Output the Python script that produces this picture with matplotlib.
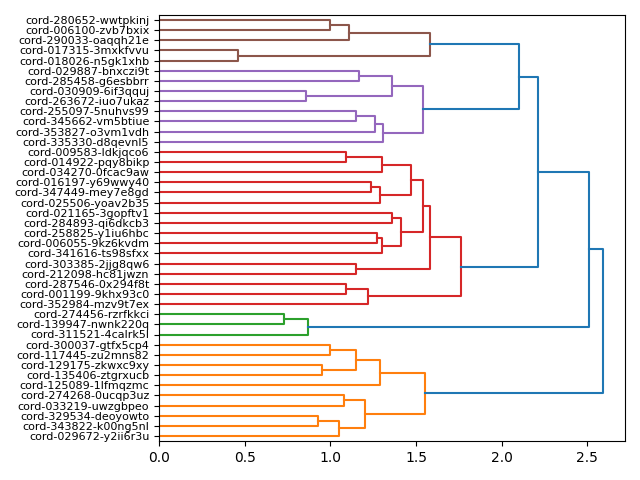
import numpy as np
import matplotlib
matplotlib.use("Agg")
import matplotlib.pyplot as plt

# leaf labels, top to bottom as shown
labels = [
    "cord-280652-wwtpkinj", "cord-006100-zvb7bxix", "cord-290033-oaqqh21e",
    "cord-017315-3mxkfvvu", "cord-018026-n5gk1xhb", "cord-029887-bnxczi9t",
    "cord-285458-g6esbbrr", "cord-030909-6if3qquj", "cord-263672-iuo7ukaz",
    "cord-255097-5nuhvs99", "cord-345662-vm5btiue", "cord-353827-o3vm1vdh",
    "cord-335330-d8qevnl5", "cord-009583-ldkjqco6", "cord-014922-pqy8bikp",
    "cord-034270-0fcac9aw", "cord-016197-y69wwy40", "cord-347449-mey7e8gd",
    "cord-025506-yoav2b35", "cord-021165-3gopftv1", "cord-284893-qi6dkcb3",
    "cord-258825-y1iu6hbc", "cord-006055-9kz6kvdm", "cord-341616-ts98sfxx",
    "cord-303385-2jjg8qw6", "cord-212098-hc81jwzn", "cord-287546-0x294f8t",
    "cord-001199-9khx93c0", "cord-352984-mzv9t7ex", "cord-274456-rzrfkkci",
    "cord-139947-nwnk220q", "cord-311521-4calrk5l", "cord-300037-gtfx5cp4",
    "cord-117445-zu2mns82", "cord-129175-zkwxc9xy", "cord-135406-ztgrxucb",
    "cord-125089-1lfmqzmc", "cord-274268-0ucqp3uz", "cord-033219-uwzgbpeo",
    "cord-329534-deoyowto", "cord-343822-k00ng5nl", "cord-029672-y2ii6r3u",
]

# merges: child a, child b, distance (new cluster ids start at len(labels))
merge_a = [0, 42, 3, 43, 5, 7, 46, 9, 49, 50, 48, 45,
           13, 54, 16, 56, 55, 19, 21, 60, 59, 58, 24, 63, 26, 66, 65, 53,
           29, 70, 69,
           32, 34, 73, 75, 37, 39, 78, 77, 76, 72]
merge_b = [1, 2, 4, 44, 6, 8, 47, 10, 11, 12, 51, 52,
           14, 15, 17, 18, 57, 20, 22, 23, 61, 62, 25, 64, 27, 28, 67, 68,
           30, 31, 71,
           33, 35, 74, 36, 38, 40, 41, 79, 80, 81]
merge_h = [1.00, 1.11, 0.46, 1.58, 1.17, 0.86, 1.36, 1.15, 1.26, 1.31, 1.54, 2.10,
           1.09, 1.30, 1.24, 1.29, 1.47, 1.36, 1.27, 1.30, 1.41, 1.54, 1.15, 1.58,
           1.09, 1.22, 1.76, 2.21,
           0.73, 0.87, 2.51,
           1.00, 0.95, 1.15, 1.29, 1.08, 0.93, 1.05, 1.20, 1.55, 2.59]

color_threshold = 1.815
cluster_roots = [81, 71, 68, 52, 45]
cluster_colors = ["C1", "C2", "C3", "C4", "C5"]
above_color = "C0"

n = len(labels)
ypos = {i: 10 * (n - 1 - i) + 5 for i in range(n)}
height = {i: 0.0 for i in range(n)}
for k in range(len(merge_h)):
    cid = n + k
    ypos[cid] = (ypos[merge_a[k]] + ypos[merge_b[k]]) / 2
    height[cid] = merge_h[k]

# colour each link by the cluster it belongs to
link_color = {}
def paint(cid, col):
    if cid < n:
        return
    k = cid - n
    link_color[cid] = col
    paint(merge_a[k], col)
    paint(merge_b[k], col)

for r, c in zip(cluster_roots, cluster_colors):
    paint(r, c)
for k in range(len(merge_h)):
    if merge_h[k] > color_threshold:
        link_color[n + k] = above_color

fig = plt.figure(figsize=(6.4, 4.8), dpi=100)
ax = fig.add_axes([0.2484, 0.08125, 0.7282, 0.8875])

for k in range(len(merge_h)):
    a, b = merge_a[k], merge_b[k]
    h = merge_h[k]
    ax.plot([height[a], h, h, height[b]], [ypos[a], ypos[a], ypos[b], ypos[b]],
            color=link_color[n + k], lw=1.5)

ax.set_ylim(0, 10 * n)
ax.set_xlim(0, max(merge_h) * 1.05)
ax.set_yticks([ypos[i] for i in range(n)])
ax.set_yticklabels(labels, fontsize=8)

fig.savefig("out.png")
